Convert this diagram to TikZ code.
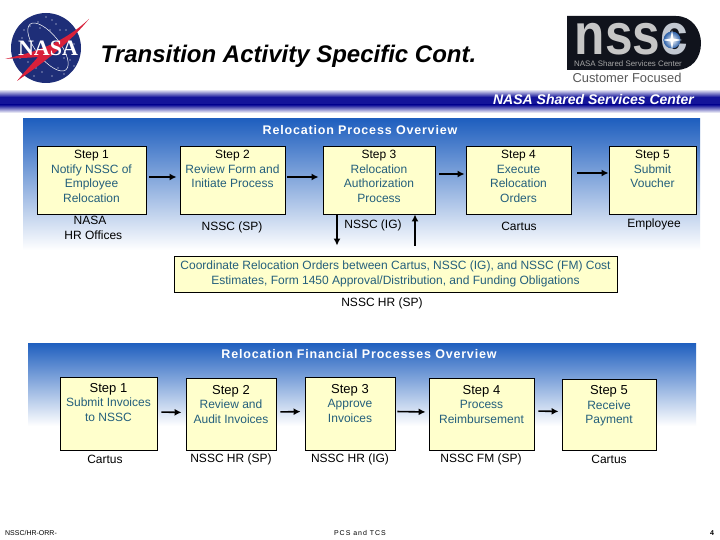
\documentclass[tikz,border=0pt]{standalone}
\usepackage{fontspec}
\setmainfont{Liberation Sans}
\newfontfamily\logoserif{Liberation Serif}
\usepackage{xcolor}
\usetikzlibrary{positioning,calc,arrows,arrows.meta,shapes.geometric,shapes.misc}
\definecolor{boxfill}{HTML}{FFFFCC}
\definecolor{desctext}{HTML}{245F7C}
\definecolor{bandblue}{HTML}{1F5FBF}
\definecolor{ruleblue}{HTML}{14149A}
\definecolor{nasablue}{HTML}{1E2E78}
\definecolor{nasared}{HTML}{D8203A}
\definecolor{logodark}{HTML}{10131C}
\definecolor{logoblue}{HTML}{2A5FA8}
\tikzset{
  stepbox/.style={draw=black,line width=.9pt,fill=boxfill,text=desctext,align=center,inner sep=0pt,font=\fontsize{12}{14.4}\selectfont},
  owner/.style={text=black,align=center,inner sep=0pt,font=\fontsize{12}{15}\selectfont},
  flow/.style={draw=black,line width=1.6pt,-{Latex[length=7pt,width=7pt]}},
  bandtitle/.style={text=white,inner sep=0pt,font=\bfseries\fontsize{12.5}{15}\selectfont\addfontfeature{LetterSpace=6.5}},
  footer/.style={text=black,inner sep=0pt,font=\fontsize{7}{8}\selectfont}
}
\newcommand{\stepname}[1]{\textcolor{black}{#1}}
\newcommand{\stepnamebig}[1]{\textcolor{black}{\fontsize{13}{14.4}\selectfont #1}}
\begin{document}
\begin{tikzpicture}[x=1pt,y=-1pt]
  \useasboundingbox (0,0) rectangle (720,540);
  \fill[white] (0,0) rectangle (720,540);
  % header rule
  \path[top color=white,bottom color=ruleblue,draw=none] (0,89) rectangle (720,97);
  \fill[ruleblue] (0,97) rectangle (720,105);
  \path[top color=ruleblue,bottom color=white,draw=none] (0,105) rectangle (720,113);
  % blue bands
  \path[top color=bandblue,bottom color=white,draw=none] (23,119) rectangle (700,250);
  \path[top color=bandblue,bottom color=white,draw=none] (28,343) rectangle (696,426);
  % nasa logo
  \fill[nasablue] (46,48) circle (35);
  \foreach \sx/\sy in {30/26,38/22,52/20,60/30,68/38,22/38,28/62,42/72,58/68,70/60,64/74,50/30,20/58,36/68,46/17,56/24,66/30,74/44,74/66,52/76,34/76,24/30,64/58,40/28}
    \fill[white] (\sx,\sy) circle (.6);
  \draw[white,line width=.5pt,rotate around={-52:(48,47)}] (48,47) ellipse (29 and 12);
  \fill[nasared] (89,19) .. controls (70,42) and (50,58) .. (17,81) .. controls (26,70) and (32,64) .. (38,57) .. controls (28,58) and (16,58) .. (5,59) .. controls (30,53) and (60,46) .. cycle;
  \node[text=white,inner sep=0pt,font=\logoserif\bfseries\fontsize{22}{22}\selectfont] (nasa) at (48,48) {NASA};
  % nssc logo
  \fill[logodark] (567,16) -- (676,16) .. controls (692,16) and (701,30) .. (701,43) .. controls (701,58) and (692,70) .. (676,70) -- (567,70) -- cycle;
  \node[text=gray!45,inner sep=0pt,transform shape,xscale=.855,font=\bfseries\fontsize{58}{58}\selectfont] (nssc) at (631.5,39) {nss\textcolor{logoblue!30!gray!40}{c}};
  \node[circle,minimum size=17pt,inner sep=0pt,inner color=white,outer color=logoblue] (glow) at (672,40) {};
  \node[star,star points=4,star point ratio=5,minimum size=20pt,inner sep=0pt,fill=white] (flare) at (glow) {};
  \node[text=gray!70,inner sep=0pt,font=\fontsize{7.9}{8}\selectfont] (nsscname) at (628,64) {NASA Shared Services Center};
  \node[text=gray!70!black,inner sep=0pt,font=\fontsize{12.9}{14}\selectfont] (motto) at (627,78) {Customer Focused};
  % titles
  \node[inner sep=0pt,font=\bfseries\itshape\fontsize{24}{26}\selectfont] (title) at (288.5,56) {Transition Activity Specific Cont.};
  \node[text=white,inner sep=0pt,font=\bfseries\itshape\fontsize{14}{16}\selectfont] (center) at (593.5,100) {NASA Shared Services Center};
  \node[bandtitle] (overview) at (360,130) {Relocation Process Overview};
  \node[bandtitle] (financial) at (359,354) {Relocation Financial Processes Overview};
  % relocation process
  \node[stepbox,minimum width=109pt,minimum height=68pt] (notify) at (91.5,180) {\stepname{Step 1}\\Notify NSSC of\\Employee\\Relocation\\[-7pt]~};
  \node[stepbox,minimum width=105pt,minimum height=68pt] (review) at (232.5,180) {\stepname{Step 2}\\Review Form and\\Initiate Process\\~\\[-7pt]~};
  \node[stepbox,minimum width=112pt,minimum height=68pt] (authorize) at (379,180) {\stepname{Step 3}\\Relocation\\Authorization\\Process\\[-7pt]~};
  \node[stepbox,minimum width=105pt,minimum height=68pt] (execute) at (518.5,180) {\stepname{Step 4}\\Execute\\Relocation\\Orders\\[-7pt]~};
  \node[stepbox,minimum width=87pt,minimum height=68pt] (voucher) at (652.5,180) {\stepname{Step 5}\\Submit\\Voucher\\~\\[-7pt]~};
  \node[stepbox,minimum width=443pt,minimum height=36pt] (coordinate) at (395.5,274) {Coordinate Relocation Orders between Cartus, NSSC (IG), and NSSC (FM) Cost\\Estimates, Form 1450 Approval/Distribution, and Funding Obligations};
  \node[owner] (ownernasa) at (90,228) {NASA\\\ \ HR Offices};
  \node[owner] (ownerform) at (232,227) {NSSC (SP)};
  \node[owner] (ownerauth) at (373,225) {NSSC (IG)};
  \node[owner] (ownerexec) at (519,226) {Cartus};
  \node[owner] (ownervoucher) at (654,224) {Employee};
  \node[owner] (ownercoord) at (382,303) {NSSC HR (SP)};
  \draw[flow,shorten <=3pt,shorten >=3pt] ([yshift=3pt]notify.east) -- ([yshift=3pt]review.west);
  \draw[flow,shorten <=2pt,shorten >=4pt] ([yshift=3pt]review.east) -- ([yshift=3pt]authorize.west);
  \draw[flow,shorten <=4pt,shorten >=1pt] ([yshift=6pt]authorize.east) -- ([yshift=6pt]execute.west);
  \draw[flow,shorten <=6pt,shorten >=0pt] ([yshift=7pt]execute.east) -- ([yshift=7pt]voucher.west);
  \draw[flow,shorten >=10pt] ([xshift=-42pt]authorize.south) -- ([xshift=-42pt]authorize.south |- coordinate.north);
  \draw[flow,shorten <=10pt] ([xshift=36pt]authorize.south |- coordinate.north) -- ([xshift=36pt]authorize.south);
  % financial process
  \node[stepbox,minimum width=97pt,minimum height=73pt] (submit) at (108.5,413.5) {\stepnamebig{Step 1}\\Submit Invoices\\to NSSC\\[8pt]~};
  \node[stepbox,minimum width=90pt,minimum height=72pt] (audit) at (231,414) {\stepnamebig{Step 2}\\Review and\\Audit Invoices\\[5pt]~};
  \node[stepbox,minimum width=90pt,minimum height=73pt] (approve) at (350,413.5) {\stepnamebig{Step 3}\\Approve\\Invoices\\[6pt]~};
  \node[stepbox,minimum width=105pt,minimum height=72pt] (process) at (481.5,414) {\stepnamebig{Step 4}\\Process\\Reimbursement\\[5pt]~};
  \node[stepbox,minimum width=94pt,minimum height=71pt] (payment) at (609,414.5) {\stepnamebig{Step 5}\\Receive\\Payment\\[5pt]~};
  \node[owner] (ownersubmit) at (105,459) {Cartus};
  \node[owner] (owneraudit) at (231,459) {NSSC HR (SP)};
  \node[owner] (ownerapprove) at (350,459) {NSSC HR (IG)};
  \node[owner] (ownerprocess) at (481,459) {NSSC FM (SP)};
  \node[owner] (ownerpayment) at (609,459) {Cartus};
  \draw[flow,shorten <=4pt,shorten >=4pt] ([yshift=1.5pt]submit.east) -- ([yshift=1.5pt]audit.west);
  \draw[flow,shorten <=4pt,shorten >=4pt] ([yshift=2pt]audit.east) -- ([yshift=2pt]approve.west);
  \draw[flow,shorten <=2pt,shorten >=3pt] ([yshift=2pt]approve.east) -- ([yshift=2pt]process.west);
  \draw[flow,shorten <=4pt,shorten >=3pt] ([yshift=3pt]process.east) -- ([yshift=3pt]payment.west);
  % footer
  \node[footer] (footleft) at (31,533) {NSSC/HR-ORR-};
  \node[footer,font=\fontsize{7}{8}\selectfont\addfontfeature{LetterSpace=14}] (footmid) at (360,533) {PCS and TCS};
  \node[footer,font=\bfseries\fontsize{7}{8}\selectfont] (footpage) at (712,533) {4};
\end{tikzpicture}
\end{document}
